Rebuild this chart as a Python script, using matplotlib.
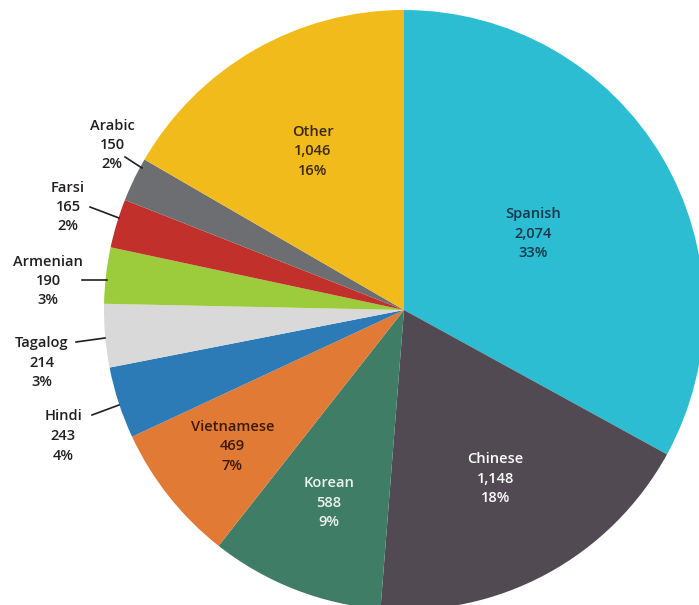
import numpy as np
import matplotlib
matplotlib.use('Agg')
import matplotlib.pyplot as plt

# languages, clockwise from the top
languages = ['Spanish', 'Chinese', 'Korean', 'Vietnamese', 'Hindi',
             'Tagalog', 'Armenian', 'Farsi', 'Arabic', 'Other']
counts = [2074, 1148, 588, 469, 243, 214, 190, 165, 150, 1046]
percents = ['33%', '18%', '9%', '7%', '4%', '3%', '3%', '2%', '2%', '16%']

colors = ['#2cbdd2', '#524a53', '#3f7d66', '#e07a35', '#2c7ab6',
          '#d9d9d9', '#9ccb3c', '#c1302b', '#6d6e71', '#f2bb1c']

plt.rcParams['font.family'] = ['Open Sans', 'DejaVu Sans']

W, H = 699, 605
fig = plt.figure(figsize=(W / 100, H / 100), dpi=100)
ax = fig.add_axes([0, 0, 1, 1])

cx, cy, R = 404, H - 310, 300
wedges, _ = ax.pie(counts, colors=colors, startangle=90, counterclock=False,
                   center=(cx, cy), radius=R, frame=True,
                   wedgeprops=dict(linewidth=0))
ax.set_xlim(0, W)
ax.set_ylim(0, H)
ax.set_aspect('equal')
ax.axis('off')

FS = 10.5
LS = 1.5

def lab(i):
    return '%s\n%s\n%s' % (languages[i], format(counts[i], ','), percents[i])

# labels inside the big slices: fraction of radius along the mid angle
inside = {0: (0.50, '#14384a'), 1: (0.64, 'white'), 2: (0.69, '#eef4f0'),
          3: (0.73, '#3a1a0c'), 9: (0.61, '#3a2a0c')}
for i, (f, c) in inside.items():
    w = wedges[i]
    a = np.deg2rad((w.theta1 + w.theta2) / 2)
    ax.text(cx + f * R * np.cos(a), cy + f * R * np.sin(a), lab(i),
            ha='center', va='center', fontsize=FS, color=c,
            fontweight='semibold', linespacing=LS)

# small slices labelled outside with leader lines (text centre, line start, line end)
outside = {8: ((112, 145), (125, 157), (142, 168)),
           7: ((68, 207), (90, 207), (119, 218)),
           6: ((48, 281), (82, 280), (107, 280)),
           5: ((42, 363), (76, 342), (105, 338)),
           4: ((63, 436), (92, 415), (119, 405))}
for i, (t, p0, p1) in outside.items():
    ax.text(t[0], H - t[1], lab(i), ha='center', va='center', fontsize=FS,
            color='#231f20', fontweight='semibold', linespacing=LS)
    ax.plot([p0[0], p1[0]], [H - p0[1], H - p1[1]], color='#231f20', lw=1.2)

fig.savefig('out.png', dpi=100)
